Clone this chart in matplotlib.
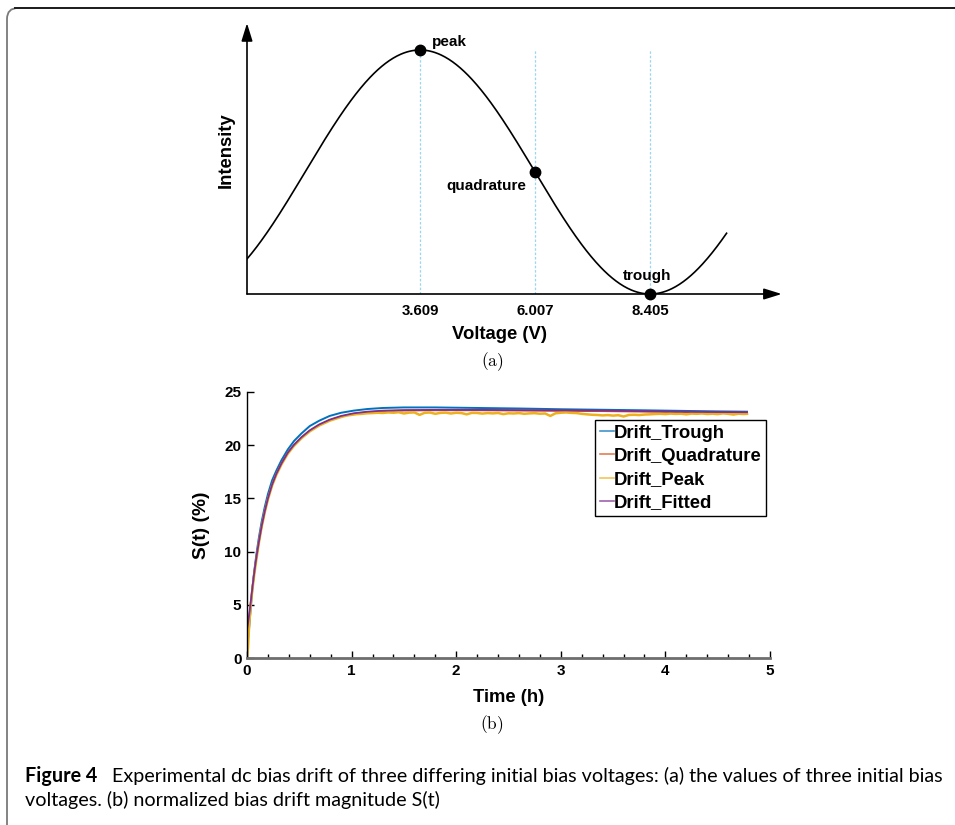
import matplotlib
matplotlib.use('Agg')
import matplotlib.pyplot as plt
import numpy as np
from matplotlib.patches import FancyBboxPatch
from matplotlib.lines import Line2D
from matplotlib.transforms import IdentityTransform
from matplotlib.ticker import MultipleLocator
from matplotlib import font_manager

plt.rcParams['font.family'] = ['Liberation Sans', 'DejaVu Sans']
plt.rcParams['font.weight'] = 'bold'
plt.rcParams['mathtext.fontset'] = 'cm'

# ---------------- data: panel (a) ----------------
bias_labels = ['peak', 'quadrature', 'trough']
bias_voltages = [3.609, 6.007, 8.405]
bias_intensity = [1.0, 0.5, 0.0]
curve_v_range = [0.0, 10.0]

# ---------------- data: panel (b) ----------------
t_hours = [0.000, 0.010, 0.020, 0.035, 0.050, 0.065, 0.080, 0.095, 0.115, 0.140,
           0.170, 0.200, 0.240, 0.280, 0.330, 0.390, 0.450, 0.520, 0.600, 0.690,
           0.790, 0.900, 1.020, 1.150, 1.300, 1.500, 1.800, 2.200, 2.600, 3.000,
           3.400, 3.800, 4.200, 4.500, 4.780]
drift_trough = [1.0, 1.8, 2.8, 4.6, 6.3, 7.8, 9.0, 10.1, 11.4, 12.8,
                14.2, 15.4, 16.7, 17.6, 18.6, 19.6, 20.4, 21.1, 21.8, 22.3,
                22.75, 23.05, 23.25, 23.4, 23.5, 23.55, 23.55, 23.5, 23.45, 23.38,
                23.33, 23.28, 23.22, 23.18, 23.15]
drift_quadrature = [0.3, 2.2, 3.6, 5.1, 6.5, 7.7, 8.8, 9.8, 11.0, 12.4,
                    13.8, 15.0, 16.3, 17.3, 18.3, 19.3, 20.0, 20.7, 21.35, 21.9,
                    22.35, 22.7, 22.95, 23.1, 23.2, 23.25, 23.28, 23.28, 23.25, 23.22,
                    23.2, 23.15, 23.1, 23.08, 23.05]
drift_fitted = [2.7, 3.3, 4.0, 5.2, 6.5, 7.7, 8.8, 9.8, 11.0, 12.4,
                13.8, 15.0, 16.3, 17.3, 18.3, 19.3, 20.05, 20.75, 21.4, 21.95,
                22.4, 22.75, 23.0, 23.15, 23.25, 23.3, 23.32, 23.32, 23.3, 23.28,
                23.25, 23.2, 23.15, 23.12, 23.1]

t_peak = [0.000, 0.010, 0.020, 0.035, 0.050, 0.065, 0.080, 0.095, 0.115, 0.140,
          0.170, 0.200, 0.240, 0.280, 0.330, 0.390, 0.450, 0.520, 0.600, 0.690,
          0.790, 0.900,
          0.95, 1.00, 1.05, 1.10, 1.15, 1.20, 1.25, 1.30, 1.35, 1.40,
          1.45, 1.50, 1.55, 1.60, 1.65, 1.70, 1.75, 1.80, 1.85, 1.90,
          1.95, 2.00, 2.05, 2.10, 2.15, 2.20, 2.25, 2.30, 2.35, 2.40,
          2.45, 2.50, 2.55, 2.60, 2.65, 2.70, 2.75, 2.80, 2.85, 2.90,
          2.95, 3.00, 3.05, 3.10, 3.15, 3.20, 3.25, 3.30, 3.35, 3.40,
          3.45, 3.50, 3.55, 3.60, 3.65, 3.70, 3.75, 3.80, 3.85, 3.90,
          3.95, 4.00, 4.05, 4.10, 4.15, 4.20, 4.25, 4.30, 4.35, 4.40,
          4.45, 4.50, 4.55, 4.60, 4.65, 4.70, 4.75, 4.78]
drift_peak = [0.0, 1.0, 3.0, 4.9, 6.3, 7.5, 8.6, 9.6, 10.9, 12.3,
              13.7, 14.9, 16.2, 17.2, 18.2, 19.2, 19.95, 20.65, 21.3, 21.85,
              22.3, 22.65,
              22.78, 22.85, 22.92, 22.95, 23.00, 23.02, 23.05, 23.03, 23.08, 23.05,
              23.10, 22.98, 23.06, 23.08, 22.85, 23.05, 23.07, 22.95, 23.04, 23.06,
              22.98, 23.05, 23.02, 22.90, 23.04, 23.03, 22.97, 23.02, 22.99, 23.03,
              22.92, 23.00, 22.98, 23.02, 22.95, 22.99, 23.01, 22.96, 22.98, 22.75,
              23.00, 23.05, 23.08, 23.04, 23.02, 22.95, 22.90, 22.86, 22.84, 22.80,
              22.83, 22.78, 22.82, 22.70, 22.84, 22.86, 22.83, 22.88, 22.90, 22.93,
              22.95, 22.92, 22.97, 22.94, 22.96, 22.90, 22.97, 22.95, 22.98, 22.93,
              22.96, 22.92, 22.99, 22.95, 22.88, 22.96, 22.93, 22.95]

series_names = ['Drift_Trough', 'Drift_Quadrature', 'Drift_Peak', 'Drift_Fitted']
series_colors = ['#0072BD', '#D95319', '#EDB120', '#7E2F8E']

W, H = 955, 825
fig = plt.figure(figsize=(W / 100, H / 100), dpi=100)

# ---------------- frame ----------------
frame = FancyBboxPatch((7, -40), 1200, 857, boxstyle='round,pad=0,rounding_size=11',
                       transform=IdentityTransform(), facecolor='none',
                       edgecolor='#7a7a7a', lw=1.3)
fig.add_artist(frame)
fig.add_artist(Line2D([15, 960], [817, 817], transform=IdentityTransform(),
                      color='#1e1e1e', lw=1.4))

# ---------------- panel (a) ----------------
ax1 = fig.add_axes([247 / W, (H - 294) / H, 551.5 / W, 280.6 / H])
ax1.set_xlim(0, 11.5)
ax1.set_ylim(0, 1.15)
for s in ax1.spines.values():
    s.set_visible(False)
ax1.set_yticks([])
ax1.set_xticks(bias_voltages, labels=[f'{v:.3f}' for v in bias_voltages])
ax1.tick_params(axis='x', length=0, pad=7, labelsize=10.8)

v = np.linspace(curve_v_range[0], curve_v_range[1], 500)
half_period = bias_voltages[2] - bias_voltages[0]
inten = 0.5 * (1 + np.cos(np.pi * (v - bias_voltages[0]) / half_period))
ax1.vlines(bias_voltages, 0, 1.0, colors='#9ad6ee', linestyles=(0, (2, 1.5)), lw=0.9)
ax1.plot(v, inten, color='k', lw=1.2)
ax1.plot(bias_voltages, bias_intensity, 'o', color='k', ms=7.5, zorder=5, clip_on=False)

arrow_kw = dict(arrowstyle='-|>,head_length=0.9,head_width=0.28', color='k', lw=1.2,
                shrinkA=0, shrinkB=0, mutation_scale=12)
ax1.annotate('', xy=(11.15, 0), xytext=(0, 0), arrowprops=arrow_kw, annotation_clip=False)
ax1.annotate('', xy=(0, 1.11), xytext=(0, 0), arrowprops=arrow_kw, annotation_clip=False)

ax1.text(3.85, 1.033, bias_labels[0], ha='left', va='center', fontsize=11, fontweight='bold')
ax1.text(4.15, 0.443, bias_labels[1], ha='left', va='center', fontsize=11, fontweight='bold')
ax1.text(8.34, 0.074, bias_labels[2], ha='center', va='center', fontsize=11, fontweight='bold')

ax1.text(5.26, -0.168, 'Voltage (V)', ha='center', va='center', fontsize=13.3, fontweight='bold')
ax1.text(-0.44, 0.59, 'Intensity', ha='center', va='center', rotation=90,
         fontsize=13.3, fontweight='bold')
fig.text(492 / W, 1 - 362 / H, r'$\mathrm{(a)}$', ha='center', va='center', fontsize=12.5)

# ---------------- panel (b) ----------------
ax2 = fig.add_axes([247 / W, (H - 658) / H, 523 / W, 266 / H])
ax2.set_xlim(0, 5)
ax2.set_ylim(0, 25)
ax2.spines['top'].set_visible(False)
ax2.spines['right'].set_visible(False)
ax2.spines['bottom'].set_color('#6e6e6e')
ax2.spines['bottom'].set_linewidth(2.0)
ax2.spines['left'].set_color('k')
ax2.spines['left'].set_linewidth(1.0)
ax2.set_xticks(range(0, 6))
ax2.set_yticks(range(0, 26, 5))
ax2.xaxis.set_minor_locator(MultipleLocator(0.2))
ax2.tick_params(which='major', direction='in', length=5, width=1.0, labelsize=11, pad=4)
ax2.tick_params(which='minor', direction='in', length=3, width=1.0)

ax2.plot(t_hours, drift_trough, color=series_colors[0], lw=1.4, label=series_names[0])
ax2.plot(t_hours, drift_quadrature, color=series_colors[1], lw=1.3, label=series_names[1])
ax2.plot(t_peak, drift_peak, color=series_colors[2], lw=1.8, label=series_names[2])
ax2.plot(t_hours, drift_fitted, color=series_colors[3], lw=1.3, label=series_names[3])

leg = ax2.legend(loc='upper left', bbox_to_anchor=(595 / W, 1 - 420 / H),
                 bbox_transform=fig.transFigure, borderaxespad=0,
                 prop={'weight': 'bold', 'size': 13.3}, frameon=True, fancybox=False,
                 edgecolor='k', framealpha=1, handlelength=0.75, handletextpad=0.0,
                 labelspacing=0.33, borderpad=0.26)
leg.get_frame().set_linewidth(1.0)
for ln in leg.get_lines():
    ln.set_linewidth(1.2)
    ln.set_alpha(0.75)

fig.text(509 / W, 1 - 697 / H, 'Time (h)', ha='center', va='center', fontsize=13.3, fontweight='bold')
fig.text(201 / W, 1 - 525 / H, 'S(t) (%)', ha='center', va='center', rotation=90,
         fontsize=13.8, fontweight='bold')
fig.text(492 / W, 1 - 725 / H, r'$\mathrm{(b)}$', ha='center', va='center', fontsize=12.5)

# ---------------- caption ----------------
cap_bold = 'Figure 4'
cap_line1 = 'Experimental dc bias drift of three differing initial bias voltages: (a) the values of three initial bias'
cap_line2 = 'voltages. (b) normalized bias drift magnitude S(t)'
names = {f.name for f in font_manager.fontManager.ttflist}
cap_family = ['Lato', 'DejaVu Sans'] if 'Lato' in names else ['DejaVu Sans']
x0, x_end = 25, 942
base1, base2 = 782, 806

fig.canvas.draw()
r = fig.canvas.get_renderer()
size = 12.0
tb = fig.text(0, 0, cap_bold, family=cap_family, fontweight='bold', size=size)
tr = fig.text(0, 0, cap_line1, family=cap_family, fontweight='normal', size=size)
wb = tb.get_window_extent(r).width
wr = tr.get_window_extent(r).width
gap = 0.75 * size * 100 / 72
scale = (x_end - x0) / (wb + gap + wr)
size *= scale
tb.set_fontsize(size)
tr.set_fontsize(size)
wb = tb.get_window_extent(r).width
gap = 0.75 * size * 100 / 72
tb.set_position((x0 / W, 1 - base1 / H))
tb.set_va('baseline')
tr.set_position(((x0 + wb + gap) / W, 1 - base1 / H))
tr.set_va('baseline')
fig.text(x0 / W, 1 - base2 / H, cap_line2, family=cap_family, fontweight='normal',
         size=size, va='baseline')

fig.savefig('out.png', dpi=100)
